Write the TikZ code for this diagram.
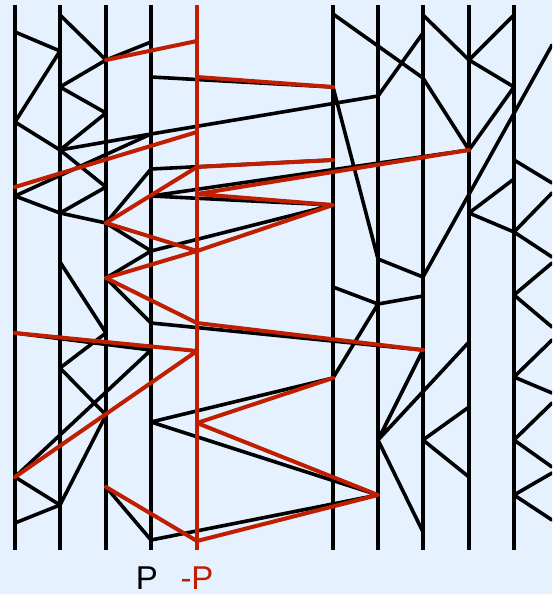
\documentclass[tikz,border=0pt]{standalone}
\usepackage{fontspec}
\setmainfont{Liberation Sans}
\definecolor{paneBlue}{RGB}{230,241,255}
\definecolor{negRed}{RGB}{192,30,0}
\tikzset{
  rail/.style={draw=black, line width=1.9pt},
  negRail/.style={draw=negRed, line width=1.9pt},
  link/.style={draw=black, line width=1.8pt, line cap=round, line join=round},
  negLink/.style={draw=negRed, line width=2pt, line cap=round, line join=round},
  railLabel/.style={inner sep=0pt, font=\fontsize{16.5}{18}\selectfont}
}

\begin{document}
\begin{tikzpicture}[x=0.5pt, y=-0.5pt]
  % background and frame
  \fill[paneBlue] (0,0) rectangle (552,594);
  \useasboundingbox (0,0) rectangle (552,594);
  \clip (0,0) rectangle (552,594);

  % crossing points, column by column
  \coordinate (a1) at (15,32);  \coordinate (a2) at (15,122);
  \coordinate (a3) at (15,187); \coordinate (a4) at (15,196);
  \coordinate (a5) at (15,333); \coordinate (a6) at (15,477);
  \coordinate (a7) at (15,523);
  \coordinate (b1) at (60,15);  \coordinate (b2) at (60,51);
  \coordinate (b3) at (60,87);  \coordinate (b4) at (60,150);
  \coordinate (b5) at (60,213); \coordinate (b6) at (60,262);
  \coordinate (b7) at (60,368); \coordinate (b8) at (60,505);
  \coordinate (c1) at (106,60);  \coordinate (c2) at (106,113);
  \coordinate (c3) at (106,187); \coordinate (c4) at (106,223);
  \coordinate (c5) at (106,278); \coordinate (c6) at (106,333);
  \coordinate (c7) at (106,415); \coordinate (c8) at (106,487);
  \coordinate (p1) at (151,42);  \coordinate (p2) at (151,77);
  \coordinate (p3) at (151,134); \coordinate (p4) at (151,169);
  \coordinate (p5) at (151,196); \coordinate (p6) at (151,251);
  \coordinate (p7) at (151,323); \coordinate (p8) at (151,350);
  \coordinate (p9) at (151,422); \coordinate (p10) at (151,540);
  \coordinate (m1) at (197,41);  \coordinate (m2) at (197,77);
  \coordinate (m3) at (197,132); \coordinate (m4) at (197,167);
  \coordinate (m5) at (197,194); \coordinate (m6) at (197,251);
  \coordinate (m7) at (197,323); \coordinate (m8) at (197,351);
  \coordinate (m9) at (197,423); \coordinate (m10) at (197,541);
  \coordinate (d1) at (333,14);  \coordinate (d2) at (333,87);
  \coordinate (d3) at (333,160); \coordinate (d4) at (333,205);
  \coordinate (d5) at (333,287); \coordinate (d6) at (333,378);
  \coordinate (e1) at (378,96);  \coordinate (e2) at (378,259);
  \coordinate (e3) at (378,304); \coordinate (e4) at (378,440);
  \coordinate (e5) at (378,495);
  \coordinate (f1) at (423,15);  \coordinate (f2) at (423,33);
  \coordinate (f3) at (423,78);  \coordinate (f4) at (423,277);
  \coordinate (f5) at (423,296); \coordinate (f6) at (423,350);
  \coordinate (f7) at (423,440); \coordinate (f8) at (423,532);
  \coordinate (g1) at (469,60);  \coordinate (g2) at (469,150);
  \coordinate (g3) at (469,213); \coordinate (g4) at (469,342);
  \coordinate (g5) at (469,407); \coordinate (g6) at (469,477);
  \coordinate (h1) at (514,15);  \coordinate (h2) at (514,87);
  \coordinate (h3) at (514,160); \coordinate (h4) at (514,179);
  \coordinate (h5) at (514,232); \coordinate (h6) at (514,295);
  \coordinate (h7) at (514,377); \coordinate (h8) at (514,440);
  \coordinate (h9) at (514,495);
  % points on the right edge
  \coordinate (r1) at (552,45);   \coordinate (r2) at (552,183);
  \coordinate (r3) at (552,193);  \coordinate (r4) at (552,257);
  \coordinate (r5) at (552,263);  \coordinate (r6) at (552,327);
  \coordinate (r7) at (552,340);  \coordinate (r8) at (552,393);
  \coordinate (r9) at (552,403);  \coordinate (r10) at (552,467);
  \coordinate (r11) at (552,473); \coordinate (r12) at (552,520);

  % vertical rails
  \foreach \n/\x in {0/15,1/60,2/106,3/151,7/333,8/378,9/423,10/469,11/514} {
    \coordinate (top\n) at (\x,5);
    \coordinate (bot\n) at (\x,550);
    \draw[rail] (top\n) -- (bot\n);
  }

  % black links
  \draw[link] (a1) -- (b2) -- (a2) -- (b4);
  \draw[link] (b1) -- (c1) -- (p1);
  \draw[link] (c1) -- (b3) -- (c2) -- (b4) -- (p3) -- (e1) -- (f2);
  \draw[link] (a4) -- (p3);
  \draw[link] (b4) -- (c3) -- (b5) -- (a4);
  \draw[link] (b5) -- (c4) -- (p4) -- (d3);
  \draw[link] (c4) -- (p6) -- (d4) -- (p5) -- (g2);
  \draw[link] (c5) -- (p6);
  \draw[link] (c5) -- (p7) -- (f6);
  \draw[link] (p2) -- (d2) -- (e2) -- (f4) -- (r1);
  \draw[link] (d1) -- (f3) -- (g2) -- (h2) -- (g1) -- (h1);
  \draw[link] (f1) -- (g1);
  \draw[link] (h3) -- (r2);
  \draw[link] (h4) -- (g3) -- (h5) -- (r3);
  \draw[link] (h5) -- (r4);
  \draw[link] (r5) -- (h6) -- (r6);
  \draw[link] (r7) -- (h7) -- (r8);
  \draw[link] (r9) -- (h8) -- (r10);
  \draw[link] (r11) -- (h9) -- (r12);
  \draw[link] (b6) -- (c6) -- (b7) -- (c7) -- (b8) -- (a7);
  \draw[link] (a5) -- (p8) -- (a6) -- (b8);
  \draw[link] (c8) -- (p10) -- (e5) -- (p9) -- (d6) -- (e3) -- (d5);
  \draw[link] (e3) -- (f5);
  \draw[link] (f6) -- (e4) -- (g4);
  \draw[link] (e4) -- (f8);
  \draw[link] (g5) -- (f7) -- (g6);

  % the -P rail and its links
  \draw[negRail] (197,5) coordinate (topNeg) -- (197,550) coordinate (botNeg);
  \draw[negLink] (c1) -- (m1);
  \draw[negLink] (m2) -- (d2);
  \draw[negLink] (a3) -- (m3);
  \draw[negLink] (c4) -- (m4) -- (d3);
  \draw[negLink] (c4) -- (m6) -- (d4) -- (m5) -- (g2);
  \draw[negLink] (c5) -- (m6);
  \draw[negLink] (c5) -- (m7) -- (f6);
  \draw[negLink] (a5) -- (m8) -- (a6);
  \draw[negLink] (c8) -- (m10) -- (e5) -- (m9) -- (d6);

  % rail names
  \node[railLabel, text=black] (lblP) at (147,578) {P};
  \node[railLabel, text=negRed] (lblNegP) at (197,578) {-P};
\end{tikzpicture}
\end{document}
